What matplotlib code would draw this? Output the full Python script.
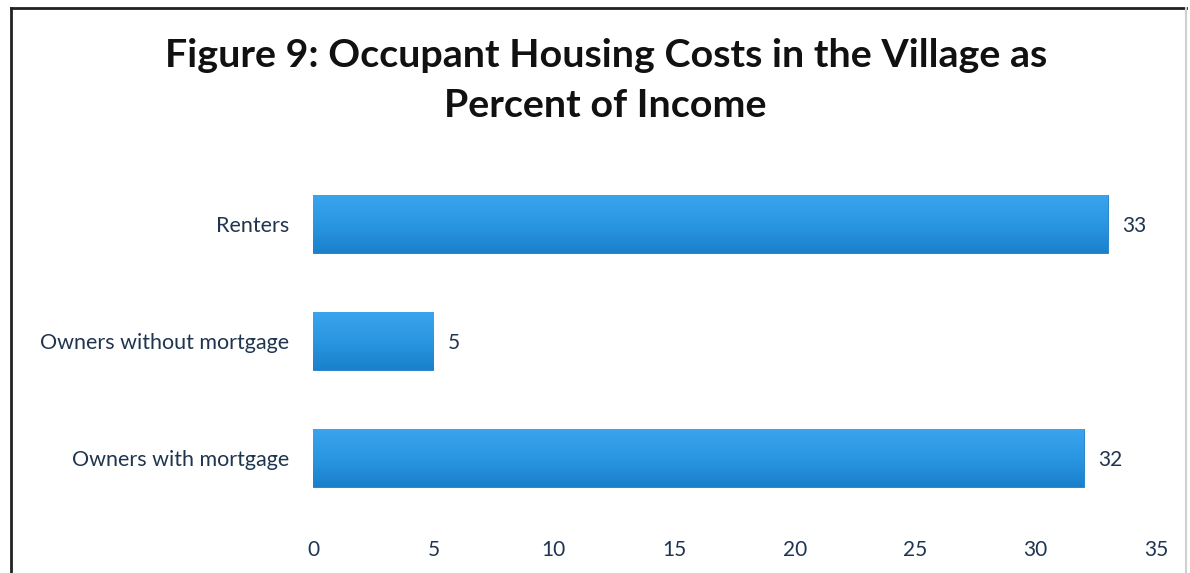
import numpy as np
import matplotlib.pyplot as plt
from matplotlib.colors import LinearSegmentedColormap

# housing cost as percent of income
categories = ["Owners with mortgage", "Owners without mortgage", "Renters"]
values = [32, 5, 33]
xticks = [0, 5, 10, 15, 20, 25, 30, 35]

text_col = "#1f3550"
grad = LinearSegmentedColormap.from_list("bar", ["#1a80cc", "#2a97e2", "#3ba4ee"])

plt.rcParams["font.family"] = ["Lato", "DejaVu Sans"]

fig = plt.figure(figsize=(11.9, 5.73), dpi=100)
ax = fig.add_axes([0.263, 0.0986, 0.7084, 0.6125])

bars = ax.barh(categories, values, height=0.5, color="#2894e0",
               edgecolor="#1b7cc8", linewidth=0.6)
# vertical gradient fill, clipped to each bar
for b in bars:
    x0, y0 = b.get_x(), b.get_y()
    img = ax.imshow(np.linspace(0, 1, 64).reshape(-1, 1), cmap=grad, aspect="auto",
                    origin="lower", extent=(x0, x0 + b.get_width(), y0, y0 + b.get_height()),
                    zorder=b.get_zorder() + 0.1)
    img.set_clip_path(b)
for b, v in zip(bars, values):
    ax.text(v + 0.6, b.get_y() + b.get_height() / 2, str(v),
            va="center_baseline", ha="left", fontsize=15, color=text_col)

ax.set_xlim(0, 35)
ax.set_ylim(-0.5, 2.5)
ax.set_xticks(xticks)
ax.tick_params(axis="x", length=0, pad=17, labelsize=15, colors=text_col)
ax.tick_params(axis="y", length=0, pad=17, labelsize=15.5, colors=text_col)
for s in ax.spines.values():
    s.set_visible(False)

fig.text(0.509, 0.859, "Figure 9: Occupant Housing Costs in the Village as\nPercent of Income",
         ha="center", va="center", fontsize=28.4, fontweight="bold",
         color="#111111", linespacing=1.52)

# outer frame: dark top/left, faint right edge
fig.add_artist(plt.Line2D([0.0095, 0.0095], [0, 0.986], transform=fig.transFigure,
                          color="#222222", linewidth=2))
fig.add_artist(plt.Line2D([0.0095, 0.997], [0.986, 0.986], transform=fig.transFigure,
                          color="#222222", linewidth=2))
fig.add_artist(plt.Line2D([0.997, 0.997], [0, 0.986], transform=fig.transFigure,
                          color="#d0d0d0", linewidth=1.5))

fig.savefig("out.png", dpi=100)
